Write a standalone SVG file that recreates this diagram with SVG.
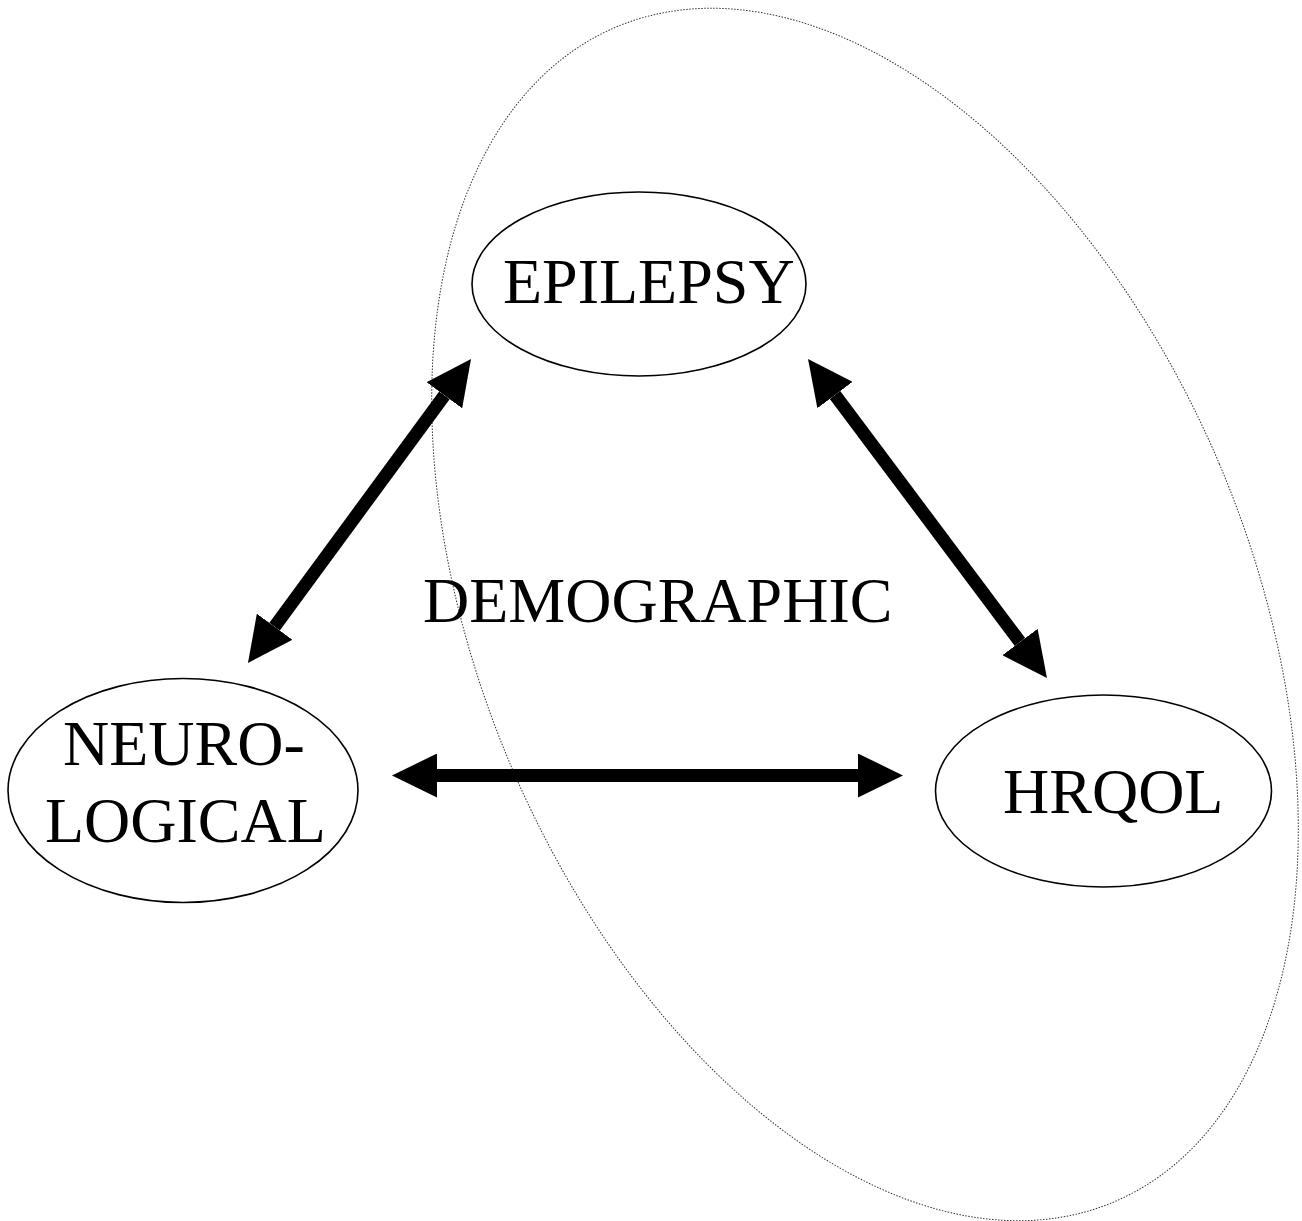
<svg xmlns="http://www.w3.org/2000/svg" width="1302" height="1221" viewBox="0 0 1302 1221">
<style>
.node{fill:none;stroke:#000;stroke-width:1.6}
.lbl{font-family:"Liberation Serif","Times New Roman",serif;font-size:64px;fill:#000}
.conn{stroke:#000;stroke-width:13;fill:none}
.group{fill:none;stroke:#333;stroke-width:1;stroke-dasharray:1.5,1.5}
</style>
<defs>
<marker id="head" viewBox="0 0 45 44" refX="0" refY="22" markerWidth="45" markerHeight="44" markerUnits="userSpaceOnUse" orient="auto-start-reverse">
<path d="M0,0 L45,22 L0,44 Z" fill="#000"/>
</marker>
</defs>
<rect width="1302" height="1221" fill="#fff"/>
<ellipse class="group" cx="865" cy="614.5" rx="385" ry="638" transform="rotate(-23 865 614.5)"/>
<g id="epilepsy">
<ellipse class="node" cx="639" cy="284" rx="167" ry="92"/>
<text class="lbl" x="503" y="303">EPILEPSY</text>
</g>
<g id="neurological">
<ellipse class="node" cx="183" cy="790.5" rx="175" ry="112"/>
<text class="lbl" x="63" y="765">NEURO-</text>
<text class="lbl" x="45" y="842">LOGICAL</text>
</g>
<g id="hrqol">
<ellipse class="node" cx="1103.5" cy="791" rx="168" ry="96"/>
<text class="lbl" x="1003" y="813">HRQOL</text>
</g>
<g id="demographic">
<text class="lbl" x="423" y="622">DEMOGRAPHIC</text>
</g>
<g id="connectors">
<line class="conn" x1="274.6" y1="626.7" x2="444.4" y2="395.3" marker-start="url(#head)" marker-end="url(#head)"/>
<line class="conn" x1="835" y1="395" x2="1020" y2="642" marker-start="url(#head)" marker-end="url(#head)"/>
<line class="conn" x1="437" y1="775.5" x2="858" y2="775.5" marker-start="url(#head)" marker-end="url(#head)"/>
</g>
</svg>
